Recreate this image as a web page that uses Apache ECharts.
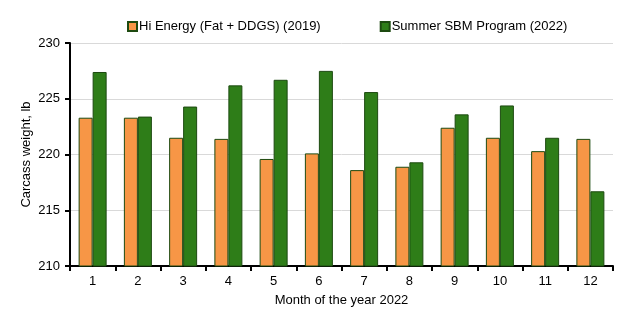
<!DOCTYPE html>
<html>
<head>
<meta charset="utf-8">
<script src="https://cdn.jsdelivr.net/npm/echarts@6/dist/echarts.min.js"></script>
<style>
  html, body { margin: 0; padding: 0; background: #ffffff; }
  #chart { width: 621px; height: 323px; }
</style>
</head>
<body>
<div id="chart"></div>
<script>
// Monthly carcass weight (lb) for two feeding programs
const months = ['1', '2', '3', '4', '5', '6', '7', '8', '9', '10', '11', '12'];
const hiEnergy2019 = [223.3, 223.3, 221.5, 221.4, 219.6, 220.1, 218.6, 218.9, 222.4, 221.5, 220.3, 221.4];
const summerSbm2022 = [227.4, 223.4, 224.3, 226.2, 226.7, 227.5, 225.6, 219.3, 223.6, 224.4, 221.5, 216.7];
const seriesNames = ['Hi Energy (Fat + DDGS) (2019)', 'Summer SBM Program (2022)'];
const yTicks = { min: 210, max: 230, step: 5 };

const font = 'Liberation Sans, Arial, sans-serif';
const chart = echarts.init(document.getElementById('chart'));

const barBase = {
  type: 'bar',
  barWidth: 14,
  barGap: '0%'
};

chart.setOption({
  animation: false,
  textStyle: { fontFamily: font },
  legend: {
    top: 15,
    left: 122,
    itemWidth: 9,
    itemHeight: 9,
    itemGap: 59,
    icon: 'rect',
    textStyle: { fontSize: 13, color: '#000', fontFamily: font, padding: [0, 0, 0, -3] },
    data: seriesNames
  },
  grid: { left: 70, right: 8, top: 43, bottom: 57 },
  xAxis: {
    type: 'category',
    data: months,
    name: 'Month of the year 2022',
    nameLocation: 'middle',
    nameGap: 28,
    nameMoveOverlap: false,
    nameTextStyle: { fontSize: 13, color: '#000', fontFamily: font },
    axisLine: { lineStyle: { color: '#000', width: 2 } },
    axisTick: { show: true, length: 5, lineStyle: { color: '#000', width: 2 } },
    axisLabel: { fontSize: 13, color: '#000', margin: 9, fontFamily: font },
    splitLine: { show: false }
  },
  yAxis: {
    type: 'value',
    min: yTicks.min,
    max: yTicks.max,
    interval: yTicks.step,
    name: 'Carcass weight, lb',
    nameLocation: 'middle',
    nameGap: 37,
    nameMoveOverlap: false,
    nameTextStyle: { fontSize: 13, color: '#000', fontFamily: font },
    axisLine: { show: true, lineStyle: { color: '#000', width: 2 } },
    axisTick: { show: true, length: 5, lineStyle: { color: '#000', width: 2 } },
    axisLabel: { fontSize: 13, color: '#000', margin: 10, fontFamily: font },
    splitLine: { lineStyle: { color: '#d9d9d9', width: 1 } }
  },
  series: [
    Object.assign({}, barBase, {
      name: seriesNames[0],
      data: hiEnergy2019,
      itemStyle: { color: '#f79646', borderColor: '#1d4a10', borderWidth: 1 }
    }),
    Object.assign({}, barBase, {
      name: seriesNames[1],
      data: summerSbm2022,
      itemStyle: { color: '#2e7d18', borderColor: '#1d4a10', borderWidth: 1 }
    })
  ]
});
</script>
</body>
</html>
